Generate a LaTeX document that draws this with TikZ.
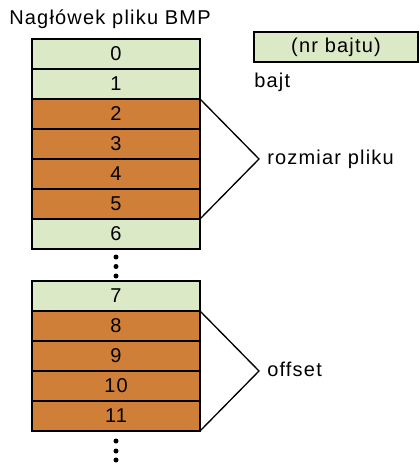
\documentclass[tikz,border=0pt]{standalone}
\usepackage{fontspec}
\setmainfont{Liberation Sans}[LetterSpace=6]
\usepackage{tikz}
\usetikzlibrary{positioning}

\definecolor{bytegreen}{RGB}{220,233,199}
\definecolor{byteorange}{RGB}{208,127,56}

\tikzset{
  byte/.style={draw=black, line width=1pt, minimum width=126pt, minimum height=22.5pt,
    inner sep=0pt, outer sep=0pt, font=\fontsize{15}{18}\selectfont},
  plain/.style={byte, fill=bytegreen},
  field/.style={byte, fill=byteorange},
  label/.style={font=\fontsize{15}{18}\selectfont, inner sep=0pt}
}

\begin{document}
\begin{tikzpicture}[x=0.75pt,y=-0.75pt]
 \useasboundingbox (0,0) rectangle (419,466);
 \node[label, anchor=base west] (title) at (9,25) {Nagłówek pliku BMP};
 % first block
 \node[plain, anchor=north west] (b0) at (32,39) {0};
 \node[plain, below=0pt of b0] (b1) {1};
 \node[field, below=0pt of b1] (b2) {2};
 \node[field, below=0pt of b2] (b3) {3};
 \node[field, below=0pt of b3] (b4) {4};
 \node[field, below=0pt of b4] (b5) {5};
 \node[plain, below=0pt of b5] (b6) {6};
 \foreach \y in {257,266.5,276}
   \fill (116,\y) circle (2.5);
 % second block
 \node[plain, anchor=north west] (b7) at (32,281) {7};
 \node[field, below=0pt of b7] (b8) {8};
 \node[field, below=0pt of b8] (b9) {9};
 \node[field, below=0pt of b9] (b10) {10};
 \node[field, below=0pt of b10] (b11) {11};
 \foreach \y in {441,451,460}
   \fill (116,\y) circle (2.5);
 % legend
 \node[plain, minimum width=123pt, anchor=north west] (legend) at (254,32) {(nr bajtu)};
 \node[label, anchor=north west] (bajt) at (254,73) {bajt};
 % braces
 \coordinate (size) at (259,159);
 \draw[line width=1pt] (b2.north east) -- (size) -- (b5.south east);
 \node[label, anchor=west] (sizelabel) at (267,159) {rozmiar pliku};
 \coordinate (off) at (259,371);
 \draw[line width=1pt] (b8.north east) -- (off) -- (b11.south east);
 \node[label, anchor=west] (offlabel) at (267,369) {offset};
\end{tikzpicture}
\end{document}
